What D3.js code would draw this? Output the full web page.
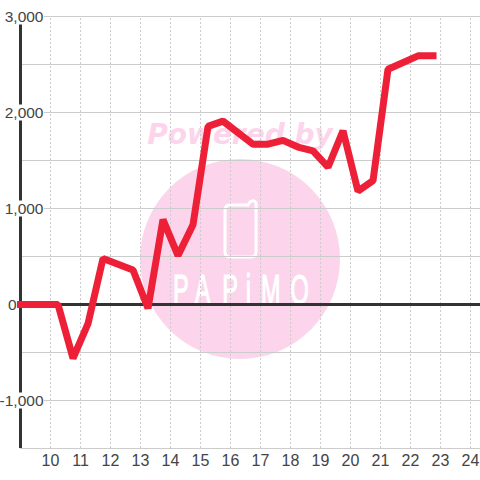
<!DOCTYPE html>
<html lang="en">
    <head>
        <meta charset="utf-8">
        <title>Intraday line</title>
        <script type="text/javascript" src="https://cdnjs.cloudflare.com/ajax/libs/d3/7.8.5/d3.min.js"></script>
        <style>
            html, body { margin: 0; padding: 0; background: #fefffe; }
            svg { display: block; }
            text { font-family: "Liberation Sans", Arial, sans-serif; }
        </style>
    </head>
    <body>
        <script type="text/javascript">

            // hours and values
            var hours = [9, 10.25, 10.75, 11.25, 11.75, 12.75, 13.25, 13.75, 14.25, 14.75, 15.25, 15.75,
                16.75, 17.25, 17.75, 18.25, 18.75, 19.25, 19.75, 20.25, 20.75, 21.25, 22.25, 22.75];
            var values = [0, 0, -560, -200, 480, 360, -40, 885, 510, 830, 1855, 1910,
                1670, 1670, 1710, 1640, 1600, 1430, 1810, 1180, 1290, 2450, 2590, 2590];
            var xTicks = [10, 11, 12, 13, 14, 15, 16, 17, 18, 19, 20, 21, 22, 23, 24];
            var yMajor = [-1000, 0, 1000, 2000, 3000];
            var yGrid = [-1500, -1000, -500, 500, 1000, 1500, 2000, 2500, 3000];

            var w = 480;
            var h = 480;

            // axis generators add the 0.5 themselves
            var x = d3.scaleLinear().domain([9, 25]).range([20, 500]);
            var y = d3.scaleLinear().domain([-1500, 3000]).range([448, 16]);

            var fmt = d3.formatLocale({decimal: ".", thousands: ",", grouping: [3], currency: ["", ""], minus: "-"}).format(",");

            var svg = d3.select("body")
                .append("svg")
                .attr("width", w)
                .attr("height", h);

            // watermark sits under everything
            var mark = svg.append("g").attr("class", "watermark");
            mark.append("circle")
                .attr("cx", 240)
                .attr("cy", 259)
                .attr("r", 100)
                .attr("fill", "#fcd5ec");
            mark.append("text")
                .attr("x", 240)
                .attr("y", 144)
                .attr("text-anchor", "middle")
                .attr("font-size", 28)
                .attr("font-weight", "bold")
                .attr("font-style", "italic")
                .attr("fill", "#fcd5ec")
                .style("font-family", "'DejaVu Sans'")
                .text("Powered by");
            mark.append("path")
                .attr("d", "M230 205 H248 L250 202 Q254 199 256 203 V252 Q256 257 251 257 H230 Q225 257 225 252 V210 Q225 205 230 205")
                .attr("fill", "none")
                .attr("stroke", "#fff")
                .attr("stroke-width", 3);
            // logo letters, squeezed sideways to get the tall narrow look
            mark.append("text")
                .attr("transform", "translate(173,304) scale(0.56,1)")
                .attr("x", "0 39 88 130 157 210")
                .attr("font-size", 42)
                .attr("fill", "#fff")
                .attr("stroke", "#fff")
                .attr("stroke-width", 1.2)
                .text("PAPiMO");

            var xGrid = d3.axisBottom(x)
                .tickValues(xTicks)
                .tickSize(-(448 - 16))
                .tickFormat("");
            svg.append("g")
                .attr("class", "x grid")
                .attr("transform", "translate(0,448)")
                .call(xGrid)
                .call(function(g){ g.select(".domain").remove(); })
                .selectAll("line")
                .attr("stroke", "#cccccc")
                .attr("stroke-dasharray", "2,2");

            var yGridAxis = d3.axisLeft(y)
                .tickValues(yGrid)
                .tickSize(-(w - 20))
                .tickFormat("");
            svg.append("g")
                .attr("class", "y grid")
                .attr("transform", "translate(20,0)")
                .call(yGridAxis)
                .call(function(g){ g.select(".domain").remove(); })
                .selectAll("line")
                .attr("stroke", "#cccccc");

            // left spine and zero line
            svg.append("line")
                .attr("x1", x(9) + 0.5)
                .attr("x2", x(9) + 0.5)
                .attr("y1", y(-1500))
                .attr("y2", y(3000))
                .attr("stroke", "#333")
                .attr("stroke-width", 3);
            svg.append("line")
                .attr("x1", x(9))
                .attr("x2", w)
                .attr("y1", y(0) + 0.5)
                .attr("y2", y(0) + 0.5)
                .attr("stroke", "#333")
                .attr("stroke-width", 3);

            // y labels have a white box behind them that cuts the spine
            var yLabels = d3.axisLeft(y)
                .tickValues(yMajor)
                .tickSize(0)
                .tickPadding(0)
                .tickFormat(fmt);
            var yg = svg.append("g")
                .attr("class", "y axis")
                .attr("transform", "translate(43.5,0)")
                .call(yLabels)
                .call(function(g){ g.select(".domain").remove(); });
            yg.selectAll(".tick").filter(function(d){ return d != 0; })
                .insert("rect", "text")
                .attr("x", -43.5)
                .attr("y", -8)
                .attr("width", 44)
                .attr("height", 16)
                .attr("fill", "#fefffe");
            yg.selectAll("text")
                .attr("font-size", 15.5)
                .attr("fill", "#444")
                .attr("dy", "0.36em")
                .attr("x", function(d){ return d == 0 ? -27 : 0; });

            var xLabels = d3.axisBottom(x)
                .tickValues(xTicks)
                .tickSize(0)
                .tickPadding(0);
            svg.append("g")
                .attr("class", "x axis")
                .attr("transform", "translate(0,455)")
                .call(xLabels)
                .call(function(g){ g.select(".domain").remove(); })
                .selectAll("text")
                .attr("font-size", 16)
                .attr("fill", "#444");

            var line = d3.line()
                .x(function(d){ return x(d) + 0.5; })
                .y(function(d, i){ return y(values[i]) + 0.5; });

            svg.append("path")
                .attr("d", line(hours))
                .attr("fill", "none")
                .attr("stroke", "#ee2038")
                .attr("stroke-width", 7)
                .attr("stroke-linecap", "square")
                .attr("stroke-linejoin", "bevel");

        </script>
    </body>
</html>
